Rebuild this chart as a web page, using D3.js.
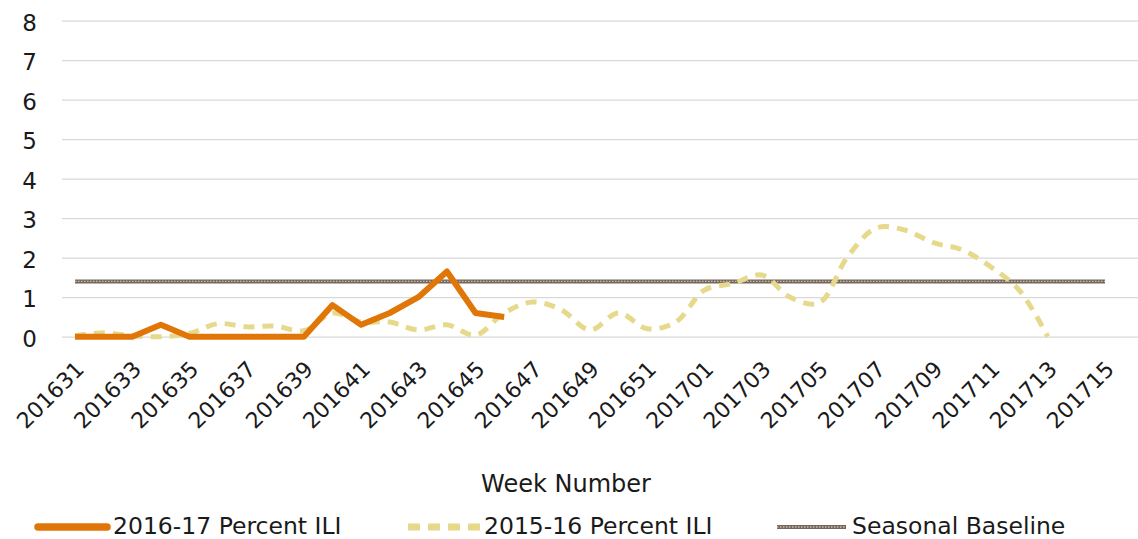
<!DOCTYPE html>
<html lang="en">
<head>
<meta charset="utf-8">
<title>Percent ILI</title>
<style>
  body { margin: 0; background: #fff; }
  svg text { font-family: "DejaVu Sans", sans-serif; fill: #1a1a1a; }
</style>
</head>
<body>
<div id="chart"></div>
<script src="https://cdnjs.cloudflare.com/ajax/libs/d3/7.8.5/d3.min.js"></script>
<script>
// week numbers 201631..201652, 201701..201715
var weeks = ["201631","201632","201633","201634","201635","201636","201637","201638","201639","201640",
             "201641","201642","201643","201644","201645","201646","201647","201648","201649","201650",
             "201651","201652","201701","201702","201703","201704","201705","201706","201707","201708",
             "201709","201710","201711","201712","201713","201714","201715"];
var weekLabels = ["201631","201633","201635","201637","201639","201641","201643","201645","201647","201649",
                  "201651","201701","201703","201705","201707","201709","201711","201713","201715"];
var ili1617 = [0, 0, 0, 0.3, 0, 0, 0, 0, 0, 0.8, 0.3, 0.6, 1.0, 1.65, 0.6, 0.5];
var ili1516 = [0.02, 0.1, 0.02, 0, 0.08, 0.33, 0.25, 0.27, 0.15, 0.6, 0.37, 0.37, 0.17, 0.3, 0.04, 0.6,
               0.88, 0.68, 0.17, 0.6, 0.2, 0.37, 1.18, 1.35, 1.56, 1.0, 0.85, 2.02, 2.75, 2.7, 2.38, 2.2,
               1.77, 1.18, 0];
var baseline = [1.4, 1.4, 1.4, 1.4, 1.4, 1.4, 1.4, 1.4, 1.4, 1.4, 1.4, 1.4, 1.4, 1.4, 1.4, 1.4, 1.4, 1.4, 1.4,
                1.4, 1.4, 1.4, 1.4, 1.4, 1.4, 1.4, 1.4, 1.4, 1.4, 1.4, 1.4, 1.4, 1.4, 1.4, 1.4, 1.4, 1.4];
var yTicks = [0, 1, 2, 3, 4, 5, 6, 7, 8];
var seriesNames = ["2016-17 Percent ILI", "2015-16 Percent ILI", "Seasonal Baseline"];

var width = 1138, height = 539;
var plotLeft = 62, plotRight = 1138;
var orange = "#E07608", yellow = "#E6D98B";

var svg = d3.select("#chart").append("svg")
            .attr("width", width)
            .attr("height", height);

var x = d3.scalePoint().domain(weeks).range([75, 1105]);
var y = d3.scaleLinear().domain([0, 8]).range([336.7, 20.7]);

// y axis + gridlines
var yAxis = svg.append("g")
    .attr("transform", "translate(" + plotLeft + ",0)")
    .call(d3.axisLeft(y).tickValues(yTicks).tickSize(-(plotRight - plotLeft)).tickPadding(25));
yAxis.select(".domain").remove();
yAxis.selectAll(".tick line").attr("stroke", "#d9d9d9").attr("stroke-width", 1.3);
yAxis.selectAll(".tick text").attr("font-size", 23).attr("dy", "0.42em");

// x axis labels
var xAxis = svg.append("g")
    .attr("transform", "translate(0," + y(0) + ")")
    .call(d3.axisBottom(x).tickValues(weekLabels).tickSize(0));
xAxis.select(".domain").remove();
xAxis.selectAll(".tick text")
    .attr("font-size", 22)
    .attr("text-anchor", "end")
    .attr("x", 0).attr("y", 0).attr("dy", 0)
    .attr("transform", "translate(10,34) rotate(-45)");

// seasonal baseline
var flat = d3.line().x(function(d, i) { return x(weeks[i]); }).y(function(d) { return y(d); });
svg.append("path").datum(baseline)
   .attr("d", flat).attr("fill", "none")
   .attr("stroke", "#76685d").attr("stroke-width", 4);
svg.append("path").datum(baseline)
   .attr("d", flat).attr("fill", "none")
   .attr("stroke", "#c9bcae").attr("stroke-width", 1.4).attr("stroke-dasharray", "1.5,1.5");

// 2015-16 smoothed dashed
var smooth = d3.line().x(function(d, i) { return x(weeks[i]); }).y(function(d) { return y(d); })
               .curve(d3.curveCatmullRom.alpha(0.5));
svg.append("path").datum(ili1516)
   .attr("d", smooth).attr("fill", "none")
   .attr("stroke", yellow).attr("stroke-width", 5).attr("stroke-dasharray", "11,8");

// 2016-17 solid
svg.append("path").datum(ili1617)
   .attr("d", flat).attr("fill", "none")
   .attr("stroke", orange).attr("stroke-width", 6).attr("stroke-linejoin", "round");

// axis title
svg.append("text")
   .attr("x", 566).attr("y", 492)
   .attr("text-anchor", "middle")
   .attr("font-size", 24)
   .text("Week Number");

// legend
var legend = svg.append("g").attr("transform", "translate(0,527)");
legend.append("line").attr("x1", 38).attr("x2", 107).attr("y1", 0).attr("y2", 0)
      .attr("stroke", orange).attr("stroke-width", 7.5).attr("stroke-linecap", "round");
legend.append("line").attr("x1", 408).attr("x2", 480).attr("y1", 0).attr("y2", 0)
      .attr("stroke", yellow).attr("stroke-width", 7).attr("stroke-dasharray", "12,8");
legend.append("line").attr("x1", 777).attr("x2", 846).attr("y1", 0).attr("y2", 0)
      .attr("stroke", "#76685d").attr("stroke-width", 4);
legend.append("line").attr("x1", 777).attr("x2", 846).attr("y1", 0).attr("y2", 0)
      .attr("stroke", "#c9bcae").attr("stroke-width", 1.4).attr("stroke-dasharray", "1.5,1.5");
var legendX = [113, 484, 852];
legend.selectAll("text.lg").data(seriesNames).enter()
      .append("text").attr("class", "lg")
      .attr("x", function(d, i) { return legendX[i]; })
      .attr("y", 7)
      .attr("font-size", 23.5)
      .text(function(d) { return d; });
</script>
</body>
</html>
